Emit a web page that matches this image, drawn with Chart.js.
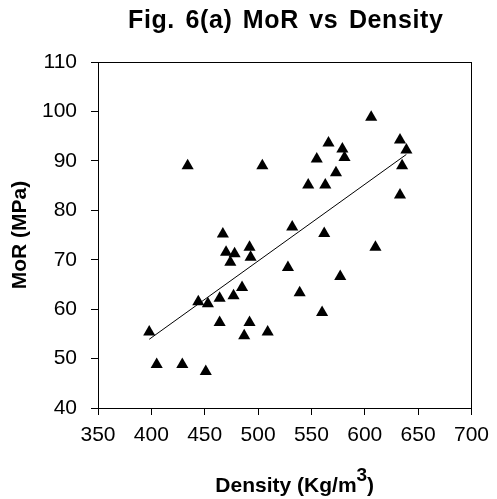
<!DOCTYPE html>
<html lang="en">

<head>
  <meta charset="UTF-8" />
  <title>Fig. 6(a) MoR vs Density</title>
  <style>
    html, body { margin: 0; padding: 0; background: #fff; }
  </style>
</head>

<body>
  <canvas id="myChart" width="497" height="499"></canvas>
  <script src="https://cdn.jsdelivr.net/npm/chart.js@4.4.0/dist/chart.umd.min.js"></script>
  <script>
    // values
    const density = [434, 504, 467, 532, 606, 566, 579, 555, 581, 633,
      639, 573, 547, 563, 635, 633, 562, 470, 478, 492,
      474, 493, 528, 485, 464, 477, 444, 453, 464, 492,
      509, 487, 398, 405, 429, 451, 610, 577, 539, 560];
    const mor = [89.0, 89.0, 75.2, 76.6, 98.8, 93.6, 92.4, 90.4, 90.7, 94.2,
      92.2, 87.6, 85.1, 85.1, 89.0, 83.1, 75.3, 71.5, 71.2, 72.5,
      69.5, 70.5, 68.4, 64.4, 62.2, 62.7, 61.5, 61.1, 57.3, 57.3,
      55.4, 54.6, 55.4, 48.8, 48.8, 47.4, 72.5, 66.6, 63.3, 59.3];

    // linear trend line ends
    const trendDensity = [398, 639];
    const trendMor = [53.9, 91.3];

    const xTicks = [350, 400, 450, 500, 550, 600, 650, 700];
    const yTicks = [40, 50, 60, 70, 80, 90, 100, 110];

    const titleText = 'Fig. 6(a) MoR vs Density';
    const xTitle = ['Density (Kg/m', '3', ')'];

    const font = 'Liberation Sans, Arial, Helvetica, sans-serif';

    // box round the plot area, main title and x title with a real superscript
    const extras = {
      id: 'extras',
      afterDraw(chart) {
        const { ctx, chartArea: a } = chart;
        const mid = (a.left + a.right) / 2;
        ctx.save();
        ctx.strokeStyle = '#000';
        ctx.lineWidth = 1;
        ctx.strokeRect(Math.round(a.left) + 0.5, Math.round(a.top) + 0.5,
          Math.round(a.right - a.left), Math.round(a.bottom - a.top));

        ctx.fillStyle = '#000';
        ctx.textAlign = 'left';
        ctx.textBaseline = 'alphabetic';

        ctx.font = 'bold 25px ' + font;
        ctx.letterSpacing = '0.6px';
        ctx.wordSpacing = '3px';
        const tw = ctx.measureText(titleText).width;
        ctx.fillText(titleText, mid + 1 - tw / 2, 28);
        ctx.letterSpacing = '0px';
        ctx.wordSpacing = '0px';

        const big = 'bold 21px ' + font;
        const small = 'bold 19px ' + font;
        ctx.font = big;
        const w0 = ctx.measureText(xTitle[0]).width;
        const w2 = ctx.measureText(xTitle[2]).width;
        ctx.font = small;
        const w1 = ctx.measureText(xTitle[1]).width;
        let x = mid + 10 - (w0 + w1 + w2) / 2;
        ctx.font = big;
        ctx.fillText(xTitle[0], x, 492);
        x += w0;
        ctx.font = small;
        ctx.fillText(xTitle[1], x, 481);
        x += w1;
        ctx.font = big;
        ctx.fillText(xTitle[2], x, 492);
        ctx.restore();
      }
    };

    const ctx = document.getElementById('myChart').getContext('2d');

    const myChart = new Chart(ctx, {
      type: 'scatter',
      data: {
        datasets: [{
          label: 'MoR',
          data: density.map((d, i) => ({ x: d, y: mor[i] })),
          pointStyle: 'triangle',
          radius: 7,
          backgroundColor: '#000',
          borderColor: '#000',
          borderWidth: 0
        }, {
          type: 'line',
          label: 'Trend',
          data: trendDensity.map((d, i) => ({ x: d, y: trendMor[i] })),
          borderColor: '#000',
          borderWidth: 1,
          pointRadius: 0,
          fill: false
        }]
      },
      options: {
        responsive: false,
        animation: false,
        layout: { padding: { left: 0, right: 21, top: 62, bottom: 0 } },
        plugins: {
          legend: { display: false },
          tooltip: { enabled: false },
          title: { display: false }
        },
        scales: {
          x: {
            type: 'linear',
            min: 350,
            max: 700,
            afterBuildTicks: s => { s.ticks = xTicks.map(v => ({ value: v })); },
            afterFit: s => { s.height = 91; },
            grid: { drawOnChartArea: false, tickLength: 7, color: '#000' },
            border: { color: '#000' },
            ticks: { color: '#000', font: { family: font, size: 21 }, padding: 8, maxRotation: 0 }
          },
          y: {
            min: 40,
            max: 110,
            afterBuildTicks: s => { s.ticks = yTicks.map(v => ({ value: v })); },
            afterFit: s => { s.width = 98; },
            grid: { drawOnChartArea: false, tickLength: 7, color: '#000' },
            border: { color: '#000' },
            ticks: { color: '#000', font: { family: font, size: 21 }, padding: 14 },
            title: {
              display: true,
              text: 'MoR (MPa)',
              color: '#000',
              font: { family: font, size: 21, weight: 'bold' },
              padding: { top: 8, bottom: 0 }
            }
          }
        }
      },
      plugins: [extras]
    });
  </script>
</body>

</html>
